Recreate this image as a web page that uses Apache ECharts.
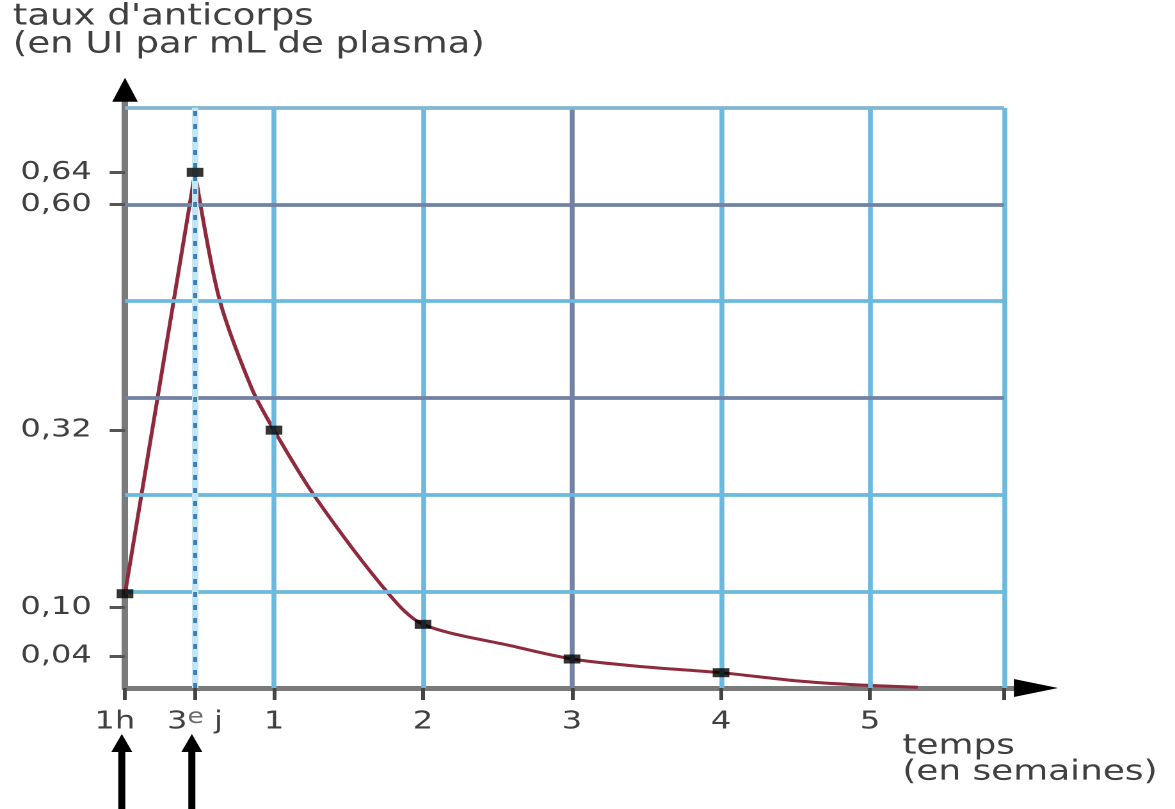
<!DOCTYPE html>
<html><head><meta charset="utf-8">
<script src="https://cdn.jsdelivr.net/npm/echarts@6/dist/echarts.min.js"></script>
<style>
html,body{margin:0;padding:0;background:#fff;overflow:hidden;width:1175px;height:809px}
#c{width:918px;height:809px;transform:scaleX(1.28);transform-origin:0 0}
</style></head><body><div id="c"></div>
<script>
// ---- data: time in weeks, antibody level in UI per mL of plasma ----
const riseWeeks = [0, 0.47];
const riseValues = [0.117, 0.64];
const decayWeeks = [0.47, 0.63, 0.85, 1, 1.28, 1.76, 2, 2.6, 3, 3.5, 4, 4.5, 4.9, 5.32];
const decayValues = [0.64, 0.485, 0.372, 0.32, 0.236, 0.119, 0.079, 0.052, 0.036, 0.026, 0.019, 0.009, 0.004, 0.001];
const pointWeeks = [0, 0.47, 1, 2, 3, 4];
const pointValues = [0.117, 0.64, 0.32, 0.079, 0.036, 0.019];
const xTickValues = [0, 0.47, 1, 2, 3, 4, 5];
const xTickLabels = ['1h', '3e j', '1', '2', '3', '4', '5'];
const xExtraTicks = [5.9];
const yTickValues = [0.04, 0.10, 0.32, 0.60, 0.64];
const gridXValues = [1, 2, 3, 4, 5, 5.9];
const gridYValues = [0.12, 0.24, 0.36, 0.48, 0.60, 0.72];
const darkGridX = [3];
const darkGridY = [0.36, 0.60];
const injectionWeeks = [0, 0.47];
const peakWeek = 0.47;
const xMax = 6.0, yMax = 0.73, gridXEnd = 5.9, gridYEnd = 0.72;
const yAxisTitle = "taux d'anticorps\n(en UI par mL de plasma)";
const xAxisTitle = "temps\n(en semaines)";

// ---- styles ----
const FONT = 'DejaVu Sans';
const TXT = '#404040';
const LIGHT = '#6cb9df';
const DARK = '#7282a4';
const TOP = '#82b6d2';
const zip = (a, b) => a.map((v, i) => [v, b[i]]);

const gridLines = [];
gridXValues.forEach(x => gridLines.push([
  {coord: [x, 0], lineStyle: {color: darkGridX.includes(x) ? DARK : LIGHT}},
  {coord: [x, gridYEnd]}
]));
gridYValues.forEach(y => gridLines.push([
  {coord: [0, y], lineStyle: {color: darkGridY.includes(y) ? DARK : (y === gridYEnd ? TOP : LIGHT)}},
  {coord: [gridXEnd, y]}
]));

const option = {
  animation: false,
  backgroundColor: '#ffffff',
  title: {
    text: yAxisTitle, left: 10, top: 3, padding: 0,
    textStyle: {fontFamily: FONT, fontSize: 29, fontWeight: 'normal', color: TXT, lineHeight: 28}
  },
  grid: {left: 97.66, right: 121.9, top: 99.8, bottom: 121, containLabel: false},
  xAxis: {
    type: 'value', min: 0, max: xMax,
    axisLine: {show: true, onZero: false, lineStyle: {color: '#7a7a7a', width: 5}},
    axisTick: {show: true, customValues: xTickValues.concat(xExtraTicks), length: 12, lineStyle: {color: '#454545', width: 3}},
    axisLabel: {
      customValues: xTickValues, margin: 19, fontFamily: FONT, fontSize: 25, color: TXT, lineHeight: 30,
      formatter: v => {
        const i = xTickValues.findIndex(t => Math.abs(t - v) < 1e-6);
        const s = i >= 0 ? xTickLabels[i] : '';
        const m = s.match(/^(\d+)e (.*)$/);
        if (m) return m[1] + '{sup|e} ' + m[2];
        if (i === 0) return '{sh|' + s + '}';
        return s;
      },
      rich: {
        sup: {fontFamily: FONT, fontSize: 21, lineHeight: 20, verticalAlign: 'top', color: '#6a6a6a'},
        sh: {fontFamily: FONT, fontSize: 25, lineHeight: 30, color: TXT, padding: [0, 16, 0, 0]}
      }
    },
    splitLine: {show: false}
  },
  yAxis: {
    type: 'value', min: 0, max: yMax,
    axisLine: {show: true, onZero: false, lineStyle: {color: '#7a7a7a', width: 5}},
    axisTick: {show: true, customValues: yTickValues, length: 12, lineStyle: {color: '#555', width: 3}},
    axisLabel: {
      customValues: yTickValues, margin: 26, fontFamily: FONT, fontSize: 25, color: TXT,
      formatter: v => v.toFixed(2).replace('.', ',')
    },
    splitLine: {show: false}
  },
  series: [
    {
      type: 'line', data: [], silent: true, z: 1,
      markLine: {
        silent: true, symbol: ['none', 'none'], label: {show: false}, animation: false,
        lineStyle: {type: 'solid', width: 3.8}, emphasis: {disabled: true},
        data: gridLines
      }
    },
    {
      type: 'line', data: [], silent: true, z: 1,
      markLine: {
        silent: true, symbol: ['none', 'none'], label: {show: false}, animation: false,
        emphasis: {disabled: true},
        data: [
          [{coord: [peakWeek, 0], lineStyle: {type: 'solid', color: '#c4e5f4', width: 5}}, {coord: [peakWeek, gridYEnd]}],
          [{coord: [peakWeek, 0], lineStyle: {type: [5, 8], color: '#3f7eae', width: 3}}, {coord: [peakWeek, gridYEnd]}]
        ]
      }
    },
    {
      name: 'montée', type: 'line', data: zip(riseWeeks, riseValues), showSymbol: false, z: 3,
      lineStyle: {color: '#8e2a3c', width: 3}, silent: true
    },
    {
      name: 'décroissance', type: 'line', data: zip(decayWeeks, decayValues), showSymbol: false, z: 3,
      smooth: 0.3,
      lineStyle: {color: '#8e2a3c', width: 3}, silent: true
    },
    {
      name: 'mesures', type: 'scatter', data: zip(pointWeeks, pointValues), z: 5,
      symbol: 'rect', symbolSize: [13, 9], itemStyle: {color: '#000'}, silent: true
    }
  ]
};

const chart = echarts.init(document.getElementById('c'), null, {devicePixelRatio: 2});
chart.setOption(option);

const px = (x, y) => chart.convertToPixel({gridIndex: 0}, [x, y]);
const yEnd = px(0, yMax);
const xEnd = px(xMax, 0);
const graphics = [
  {type: 'polygon', z: 10, shape: {points: [[yEnd[0], yEnd[1] - 22], [yEnd[0] - 10, yEnd[1] + 2], [yEnd[0] + 10, yEnd[1] + 2]]}, style: {fill: '#000'}},
  {type: 'polygon', z: 10, shape: {points: [[xEnd[0] + 30.5, xEnd[1]], [xEnd[0] - 4, xEnd[1] - 9], [xEnd[0] - 4, xEnd[1] + 9]]}, style: {fill: '#000'}},
  {type: 'text', z: 10, x: 705, y: 733, style: {text: xAxisTitle, fontSize: 28, fontFamily: FONT, fill: TXT, lineHeight: 26}}
];
injectionWeeks.forEach(w => {
  const p = px(w, 0);
  const xa = p[0] - 2.5;
  const tip = p[1] + 46;
  graphics.push({type: 'polygon', z: 10, shape: {points: [[xa, tip], [xa - 8.2, tip + 18], [xa + 8.2, tip + 18]]}, style: {fill: '#000'}});
  graphics.push({type: 'rect', z: 10, shape: {x: xa - 2.75, y: tip + 15, width: 5.5, height: 80}, style: {fill: '#000'}});
});
chart.setOption({graphic: graphics});
</script></body></html>
